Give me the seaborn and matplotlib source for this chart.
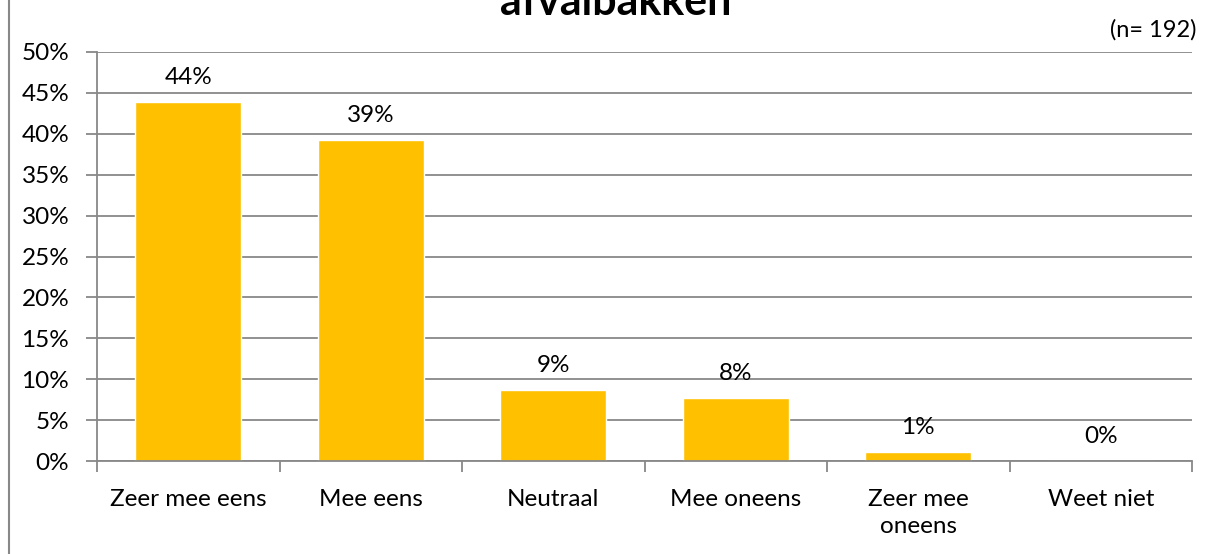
import matplotlib
matplotlib.use("Agg")
import matplotlib.pyplot as plt
import seaborn as sns
import pandas as pd
from matplotlib.ticker import FixedLocator, FuncFormatter
from matplotlib.lines import Line2D

categories = ["Zeer mee eens", "Mee eens", "Neutraal", "Mee oneens", "Zeer mee\noneens", "Weet niet"]
values = [43.9, 39.3, 8.7, 7.7, 1.1, 0.0]
labels = ["44%", "39%", "9%", "8%", "1%", "0%"]
title_text = "afvalbakken"
n_text = "(n= 192)"

sns.set_theme(style="white")
plt.rcParams['font.family'] = ['Lato', 'DejaVu Sans']

df = pd.DataFrame({"cat": categories, "val": values})

fig = plt.figure(figsize=(12.15, 5.54), dpi=100)
ax = fig.add_axes([97/1215, 1 - 461/554, (1192-97)/1215, (461-52)/554])

sns.barplot(data=df, x="cat", y="val", color="#FFC000", width=0.58, ax=ax, saturation=1)

ax.set_xlim(-0.5, 5.5)
ax.set_ylim(0, 50)
ax.set_xlabel("")
ax.set_ylabel("")
ax.yaxis.set_major_locator(FixedLocator(range(0, 51, 5)))
ax.yaxis.set_major_formatter(FuncFormatter(lambda v, p: f"{int(v)}%"))
ax.grid(axis="y", color="#888888", linewidth=1.3)
ax.set_axisbelow(True)

for s in ["top", "right"]:
    ax.spines[s].set_visible(False)
for s in ["left", "bottom"]:
    ax.spines[s].set_color("#888888")
    ax.spines[s].set_linewidth(1.3)

fs = 17.5
ax.tick_params(axis="y", which="major", length=8, width=1.3, color="#888888", labelsize=fs, pad=12, labelcolor="black", left=True)
ax.xaxis.set_minor_locator(FixedLocator([-0.5, 0.5, 1.5, 2.5, 3.5, 4.5, 5.5]))
ax.tick_params(axis="x", which="major", length=0, labelsize=fs, pad=20, labelcolor="black")
ax.tick_params(axis="x", which="minor", length=8, width=1.3, color="#888888", bottom=True)
for t in ax.get_xticklabels():
    t.set_linespacing(1.35)

for i, (v, lab) in enumerate(zip(values, labels)):
    ax.annotate(lab, (i, v), xytext=(0, 10), textcoords="offset points",
                ha="center", va="bottom", fontsize=fs, color="black")

fig.text(616/1215, 1 - 15/554, title_text, ha="center", va="baseline", fontsize=31, fontweight="bold", color="black")
fig.text(1197/1215, 1 - 30/554, n_text, ha="right", va="center", fontsize=17, color="black")

fig.add_artist(Line2D([9/1215, 9/1215], [0, 1], transform=fig.transFigure, color="#888888", linewidth=1.5))

fig.savefig("out.png", dpi=100)
